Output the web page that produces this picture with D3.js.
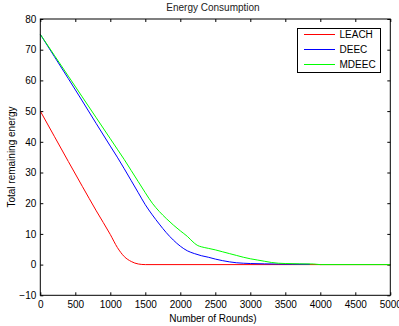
<!DOCTYPE html>
<html>
<head>
<meta charset="utf-8">
<script src="https://cdn.jsdelivr.net/npm/d3@7"></script>
<style>
  body { margin: 0; background: #fff; }
  text { font-family: "Liberation Sans", Arial, sans-serif; }
</style>
</head>
<body>
<svg id="chart" width="399" height="326"></svg>
<script>
// rounds / remaining energy
var leachRounds = [0, 200, 400, 600, 800, 1000, 1100, 1200, 1300, 1400, 1500, 5000]
var leachEnergy = [50, 41.8, 33.6, 25.5, 17.5, 9.8, 5.6, 2.6, 1.0, 0.2, 0, 0]

var deecRounds = [0, 200, 400, 600, 800, 1000, 1100, 1200, 1300, 1400, 1500, 1600, 1700, 1800, 1900, 2000,
                  2100, 2200, 2300, 2400, 2500, 2600, 2700, 2800, 2900, 3000, 3200, 3400, 3600, 3850]
var deecEnergy = [75, 67.8, 60.6, 53.3, 45.9, 38.6, 35, 31.2, 27.3, 23.4, 19.5, 16.2, 13.2, 10.4, 8.0, 6.0,
                  4.5, 3.6, 2.9, 2.4, 1.8, 1.3, 0.9, 0.6, 0.45, 0.35, 0.25, 0.18, 0.14, 0.1]

var mdeecRounds = [0, 200, 400, 600, 800, 1000, 1100, 1200, 1300, 1400, 1500, 1600, 1700, 1800, 1900, 2000,
                   2100, 2200, 2250, 2300, 2400, 2500, 2600, 2700, 2800, 2900, 3000, 3100, 3200, 3300, 3400,
                   3500, 3700, 3900, 4000, 5000]
var mdeecEnergy = [75, 68.2, 61.4, 54.6, 47.8, 41, 37.6, 34.2, 30.6, 27, 23.4, 20.0, 17.3, 15.0, 12.9, 11.0,
                   9.2, 7.0, 6.2, 5.8, 5.3, 4.8, 4.2, 3.6, 3.0, 2.4, 1.9, 1.5, 1.1, 0.7, 0.45,
                   0.35, 0.25, 0.2, 0, 0]

var seriesNames = ["LEACH", "DEEC", "MDEEC"]
var seriesColors = ["#ff0000", "#0000ff", "#00ff00"]
var xTicks = d3.range(0, 5001, 500)
var yTicks = d3.range(-10, 81, 10)

var plot = { left: 40.3, right: 390.3, top: 19, bottom: 295.3 }
var svg = d3.select("#chart")

var x = d3.scaleLinear().domain([0, 5000]).range([plot.left, plot.right])
var y = d3.scaleLinear().domain([-10, 80]).range([plot.bottom, plot.top])

// axes, ticks point inward, mirrored on top / right
svg.append("g")
    .attr("transform", "translate(0," + plot.bottom + ")")
    .call(d3.axisBottom(x).tickValues(xTicks).tickSize(-3).tickPadding(6).tickFormat(d3.format("d")))
    .call(g => g.select(".domain").remove())
svg.append("g")
    .attr("transform", "translate(0," + plot.top + ")")
    .call(d3.axisTop(x).tickValues(xTicks).tickSize(-3).tickFormat(""))
    .call(g => g.select(".domain").remove())
svg.append("g")
    .attr("transform", "translate(" + plot.left + ",0)")
    .call(d3.axisLeft(y).tickValues(yTicks).tickSize(-3).tickPadding(4))
    .call(g => g.select(".domain").remove())
svg.append("g")
    .attr("transform", "translate(" + plot.right + ",0)")
    .call(d3.axisRight(y).tickValues(yTicks).tickSize(-3).tickFormat(""))
    .call(g => g.select(".domain").remove())

svg.selectAll(".tick text")
    .attr("font-size", "10px")
    .attr("font-family", "Liberation Sans, Arial, sans-serif")
    .attr("fill", "#000")
svg.selectAll(".tick line").attr("stroke", "#000")

var series = [
    { rounds: leachRounds, energy: leachEnergy },
    { rounds: deecRounds, energy: deecEnergy },
    { rounds: mdeecRounds, energy: mdeecEnergy }
]

var line = d3.line()
    .x(d => x(d[0]))
    .y(d => y(d[1]))
    .curve(d3.curveMonotoneX)

series.forEach(function (s, i) {
    svg.append("path")
        .datum(s.rounds.map((r, j) => [r, s.energy[j]]))
        .attr("fill", "none")
        .attr("stroke", seriesColors[i])
        .attr("stroke-width", 1)
        .attr("d", line)
})

// frame
svg.append("rect")
    .attr("x", plot.left).attr("y", plot.top)
    .attr("width", plot.right - plot.left).attr("height", plot.bottom - plot.top)
    .attr("fill", "none").attr("stroke", "#000").attr("stroke-width", 1)

// legend
var lg = svg.append("g")
lg.append("rect")
    .attr("x", 297.5).attr("y", 28.5).attr("width", 83).attr("height", 44)
    .attr("fill", "#fff").attr("stroke", "#000").attr("stroke-width", 1)
seriesNames.forEach(function (name, i) {
    var ly = 34.5 + i * 15
    lg.append("line")
        .attr("x1", 304).attr("x2", 335).attr("y1", ly).attr("y2", ly)
        .attr("stroke", seriesColors[i]).attr("stroke-width", 1)
    lg.append("text")
        .attr("x", 339.5).attr("y", ly + 3.6)
        .attr("font-size", "10px")
        .text(name)
})

// titles
svg.append("text")
    .attr("x", 213).attr("y", 11)
    .attr("text-anchor", "middle")
    .attr("font-size", "10px")
    .attr("fill", "#222")
    .text("Energy Consumption")
svg.append("text")
    .attr("x", 213).attr("y", 322)
    .attr("text-anchor", "middle")
    .attr("font-size", "10px")
    .text("Number of Rounds)")
svg.append("text")
    .attr("transform", "translate(15,157) rotate(-90)")
    .attr("text-anchor", "middle")
    .attr("font-size", "10px")
    .text("Total remaining energy")
</script>
</body>
</html>
